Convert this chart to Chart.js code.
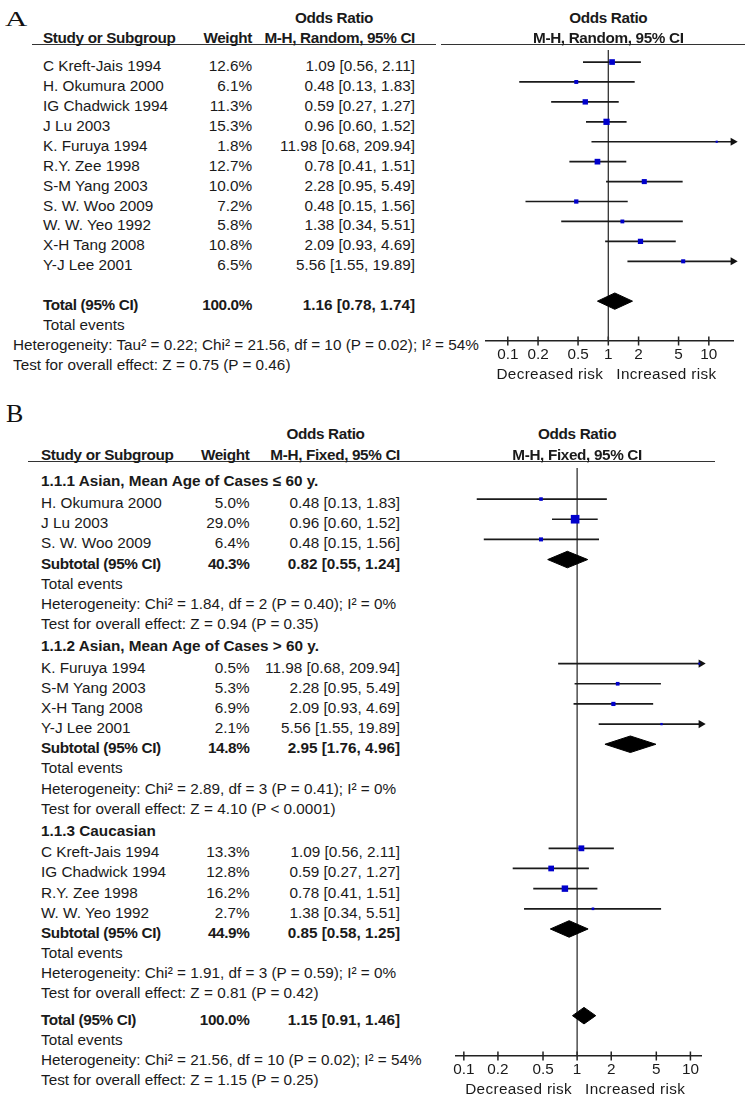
<!DOCTYPE html>
<html>
<head>
<meta charset="utf-8">
<title>Forest plots A and B</title>
<script src="https://cdn.jsdelivr.net/npm/chart.js@4.4.0/dist/chart.umd.min.js"></script>
<style>
  body { margin: 0; background: #fff; }
  #page { position: relative; width: 750px; height: 1099px; overflow: hidden;
          font-family: "Liberation Sans", Arial, sans-serif; font-size: 15.3px; color: #1a1a1a; }
  .t { position: absolute; white-space: nowrap; line-height: 18px; }
  .b { font-weight: bold; }
  .n { letter-spacing: -0.35px; }
  .w { letter-spacing: 0.35px; }
  .rule { position: absolute; height: 0; border-top: 1.5px solid #333; }
  .panel { position: absolute; font-family: "Liberation Serif", "Times New Roman", serif;
           line-height: 1; transform-origin: left top; color: #111; }
  canvas { position: absolute; }
</style>
</head>
<body>
<div id="page">
  <div class="panel" style="left:5px;top:8px;font-size:22px;transform:scaleX(1.4)">A</div>
  <div class="panel" style="left:6px;top:401px;font-size:26px">B</div>
  <div class="rule" style="left:32px;top:44px;width:404px"></div>
  <div class="rule" style="left:441px;top:44px;width:304px"></div>
  <div class="rule" style="left:28px;top:461px;width:687px"></div>
  <canvas id="chartA" width="261" height="327" style="left:480px;top:44px"></canvas>
  <canvas id="chartB" width="261" height="624" style="left:448px;top:462px"></canvas>
</div>
<script>
// ---- Data ---------------------------------------------------------------

const tickValues = [0.1, 0.2, 0.5, 1, 2, 5, 10];

// A: M-H, random effects, all studies
const studiesA = ["C Kreft-Jais 1994", "H. Okumura 2000", "IG Chadwick 1994", "J Lu 2003",
  "K. Furuya 1994", "R.Y. Zee 1998", "S-M Yang 2003", "S. W. Woo 2009", "W. W. Yeo 1992",
  "X-H Tang 2008", "Y-J Lee 2001"];
const weightA = [12.6, 6.1, 11.3, 15.3, 1.8, 12.7, 10.0, 7.2, 5.8, 10.8, 6.5];
const orA = [1.09, 0.48, 0.59, 0.96, 11.98, 0.78, 2.28, 0.48, 1.38, 2.09, 5.56];
const loA = [0.56, 0.13, 0.27, 0.60, 0.68, 0.41, 0.95, 0.15, 0.34, 0.93, 1.55];
const hiA = [2.11, 1.83, 1.27, 1.52, 209.94, 1.51, 5.49, 1.56, 5.51, 4.69, 19.89];
const totalA = [1.16, 0.78, 1.74]; // OR, lower, upper
const hetA = "Heterogeneity: Tau² = 0.22; Chi² = 21.56, df = 10 (P = 0.02); I² = 54%";
const testA = "Test for overall effect: Z = 0.75 (P = 0.46)";

// B: M-H, fixed effects, by subgroup
const groupsB = ["1.1.1 Asian, Mean Age of Cases ≤ 60 y.",
  "1.1.2 Asian, Mean Age of Cases > 60 y.", "1.1.3 Caucasian"];
const studiesB = [["H. Okumura 2000", "J Lu 2003", "S. W. Woo 2009"],
  ["K. Furuya 1994", "S-M Yang 2003", "X-H Tang 2008", "Y-J Lee 2001"],
  ["C Kreft-Jais 1994", "IG Chadwick 1994", "R.Y. Zee 1998", "W. W. Yeo 1992"]];
const weightB = [[5.0, 29.0, 6.4], [0.5, 5.3, 6.9, 2.1], [13.3, 12.8, 16.2, 2.7]];
const orB = [[0.48, 0.96, 0.48], [11.98, 2.28, 2.09, 5.56], [1.09, 0.59, 0.78, 1.38]];
const loB = [[0.13, 0.60, 0.15], [0.68, 0.95, 0.93, 1.55], [0.56, 0.27, 0.41, 0.34]];
const hiB = [[1.83, 1.52, 1.56], [209.94, 5.49, 4.69, 19.89], [2.11, 1.27, 1.51, 5.51]];
const subWeightB = [40.3, 14.8, 44.9];
const subOrB = [0.82, 2.95, 0.85];
const subLoB = [0.55, 1.76, 0.58];
const subHiB = [1.24, 4.96, 1.25];
const subHetB = ["Heterogeneity: Chi² = 1.84, df = 2 (P = 0.40); I² = 0%",
  "Heterogeneity: Chi² = 2.89, df = 3 (P = 0.41); I² = 0%",
  "Heterogeneity: Chi² = 1.91, df = 3 (P = 0.59); I² = 0%"];
const subTestB = ["Test for overall effect: Z = 0.94 (P = 0.35)",
  "Test for overall effect: Z = 4.10 (P < 0.0001)",
  "Test for overall effect: Z = 0.81 (P = 0.42)"];
const totalB = [1.15, 0.91, 1.46];
const hetB = "Heterogeneity: Chi² = 21.56, df = 10 (P = 0.02); I² = 54%";
const testB = "Test for overall effect: Z = 1.15 (P = 0.25)";

// ---- Layout --------------------------------------------------------------

const FONT = '"Liberation Sans", Arial, sans-serif';
const page = document.getElementById("page");

const layA = {
  rowMin: -0.604, axisRow: 14, xMin: 0.0607, xMax: 17.4,
  nameX: 43, footX: 13, weightR: 252, ciR: 415, textDy: 4,
  head1Y: 17.5, head2Y: 38, oddsX: 334, method: "M-H, Random, 95% CI",
};
const layB = {
  rowMin: -0.456, axisRow: 28.7, xMin: 0.0849, xMax: 12.4,
  nameX: 41, footX: 41, weightR: 249.5, ciR: 400, textDy: 4,
  head1Y: 434, head2Y: 455, oddsX: 325.5, method: "M-H, Fixed, 95% CI",
};

// ---- Rows ----------------------------------------------------------------

const rowsA = [];
studiesA.forEach((name, i) => rowsA.push({ kind: "study", r: i, name,
  w: weightA[i], or: orA[i], lo: loA[i], hi: hiA[i] }));
rowsA.push({ kind: "total", r: 12, name: "Total (95% CI)", w: 100,
  or: totalA[0], lo: totalA[1], hi: totalA[2] });
rowsA.push({ kind: "note", r: 13, name: "Total events" });
rowsA.push({ kind: "foot", r: 14, name: hetA });
rowsA.push({ kind: "foot", r: 15, name: testA });

// B rows: headings get a little air around them, the overall total a bit more
const rowsB = [];
function addB(row) {
  const prev = rowsB[rowsB.length - 1];
  let r = 0;
  if (prev) {
    r = prev.r + 1;
    if (row.kind === "head" || prev.kind === "head") r += 0.08;
    if (row.kind === "total") r += 0.3;
  }
  row.r = r;
  rowsB.push(row);
}
groupsB.forEach((g, gi) => {
  addB({ kind: "head", name: g });
  studiesB[gi].forEach((name, i) => addB({ kind: "study", name, w: weightB[gi][i],
    or: orB[gi][i], lo: loB[gi][i], hi: hiB[gi][i] }));
  addB({ kind: "sub", name: "Subtotal (95% CI)", w: subWeightB[gi],
    or: subOrB[gi], lo: subLoB[gi], hi: subHiB[gi] });
  addB({ kind: "note", name: "Total events" });
  addB({ kind: "note", name: subHetB[gi] });
  addB({ kind: "note", name: subTestB[gi] });
});
addB({ kind: "total", name: "Total (95% CI)", w: 100, or: totalB[0], lo: totalB[1], hi: totalB[2] });
addB({ kind: "note", name: "Total events" });
addB({ kind: "foot", name: hetB });
addB({ kind: "foot", name: testB });

// ---- Charts --------------------------------------------------------------

function squareRadius(w) {
  const side = Math.max(2, 1.6 * Math.sqrt(w));
  return side / Math.SQRT2;
}

function makeChart(canvasId, rows, lay) {
  const studies = rows.filter((d) => d.kind === "study");
  const pooled = rows.filter((d) => d.kind === "sub" || d.kind === "total");
  const clipped = studies.filter((d) => d.hi > lay.xMax);
  const datasets = [];

  // study estimates: blue squares sized by weight
  datasets.push({
    order: 0, data: studies.map((d) => ({ x: d.or, y: d.r })),
    pointStyle: "rect", pointRadius: studies.map((d) => squareRadius(d.w)),
    backgroundColor: "#0000cc", pointBorderWidth: 0, clip: false,
  });
  // arrow heads for intervals running off the axis
  datasets.push({
    order: 1, data: clipped.map((d) => ({ x: lay.xMax, y: d.r })),
    pointStyle: "triangle", pointRotation: 90, pointRadius: 4.7,
    backgroundColor: "#111", pointBorderWidth: 0, clip: false,
  });
  // pooled diamonds
  pooled.forEach((d) => datasets.push({
    order: 1, showLine: true, fill: "shape", pointRadius: 0,
    data: [{ x: d.lo, y: d.r }, { x: d.or, y: d.r - 0.41 }, { x: d.hi, y: d.r },
           { x: d.or, y: d.r + 0.41 }, { x: d.lo, y: d.r }],
    borderColor: "#000", backgroundColor: "#000", borderWidth: 1,
  }));
  // confidence intervals
  studies.forEach((d) => datasets.push({
    order: 2, showLine: true, pointRadius: 0,
    data: [{ x: d.lo, y: d.r }, { x: Math.min(d.hi, lay.xMax), y: d.r }],
    borderColor: "#1a1a1a", borderWidth: 1.7,
  }));
  // line of no effect
  datasets.push({
    order: 3, showLine: true, pointRadius: 0,
    data: [{ x: 1, y: lay.rowMin }, { x: 1, y: lay.axisRow }],
    borderColor: "#333", borderWidth: 1.3,
  });
  // tick marks across the axis
  datasets.push({
    order: 3, data: tickValues.map((v) => ({ x: v, y: lay.axisRow })),
    pointStyle: "line", pointRotation: 90, pointRadius: 4.5,
    pointBorderColor: "#222", pointBorderWidth: 1.5, clip: false,
  });

  return new Chart(document.getElementById(canvasId), {
    type: "scatter",
    data: { datasets },
    options: {
      responsive: false,
      animation: false,
      events: [],
      layout: { padding: { top: 0, left: 0, right: 8, bottom: 0 } },
      plugins: { legend: { display: false }, tooltip: { enabled: false } },
      scales: {
        x: {
          type: "logarithmic", min: lay.xMin, max: lay.xMax,
          afterBuildTicks: (s) => { s.ticks = tickValues.map((v) => ({ value: v })); },
          afterFit: (s) => { s.height = 30; },
          ticks: { callback: (v) => String(v), padding: 5, color: "#1a1a1a",
                   font: { family: FONT, size: 15.3 }, maxRotation: 0, autoSkip: false },
          grid: { display: false, drawTicks: false },
          border: { display: true, color: "#222", width: 1.5 },
        },
        y: { type: "linear", reverse: true, min: lay.rowMin, max: lay.axisRow, display: false },
      },
    },
  });
}

// ---- Text ----------------------------------------------------------------

function label(x, yc, text, cls, align) {
  const el = document.createElement("div");
  el.className = "t " + cls;
  el.textContent = text;
  el.style.left = x + "px";
  el.style.top = (yc - 9) + "px";
  if (align === "right") el.style.transform = "translateX(-100%)";
  if (align === "center") el.style.transform = "translateX(-50%)";
  page.appendChild(el);
}

const ci = (d) => `${d.or.toFixed(2)} [${d.lo.toFixed(2)}, ${d.hi.toFixed(2)}]`;

function placeText(chart, rows, lay) {
  const xs = chart.scales.x, ys = chart.scales.y;
  const top = chart.canvas.offsetTop, left = chart.canvas.offsetLeft;
  const nullX = left + xs.getPixelForValue(1);

  rows.forEach((d) => {
    const y = top + ys.getPixelForValue(d.r) + lay.textDy;
    const pooled = d.kind === "sub" || d.kind === "total";
    const nameCls = d.kind === "head" ? "b" : pooled ? "b n" : "";
    label(d.kind === "foot" ? lay.footX : lay.nameX, y, d.name, nameCls, "left");
    if (d.w !== undefined) {
      label(lay.weightR, y, d.w.toFixed(1) + "%", pooled ? "b n" : "", "right");
      label(lay.ciR, y, ci(d), pooled ? "b" : "", "right");
    }
  });

  // column headers
  label(lay.oddsX, lay.head1Y, "Odds Ratio", "b n", "center");
  label(lay.nameX, lay.head2Y, "Study or Subgroup", "b n", "left");
  label(lay.weightR, lay.head2Y, "Weight", "b n", "right");
  label(lay.ciR, lay.head2Y, lay.method, "b n", "right");
  label(nullX, lay.head1Y, "Odds Ratio", "b n", "center");
  label(nullX, lay.head2Y, lay.method, "b n", "center");

  const axisY = top + ys.getPixelForValue(lay.axisRow);
  label(nullX - 5, axisY + 33, "Decreased risk", "w", "right");
  label(nullX + 8, axisY + 33, "Increased risk", "w", "left");
}

const chartA = makeChart("chartA", rowsA, layA);
const chartB = makeChart("chartB", rowsB, layB);
placeText(chartA, rowsA, layA);
placeText(chartB, rowsB, layB);
</script>
</body>
</html>
